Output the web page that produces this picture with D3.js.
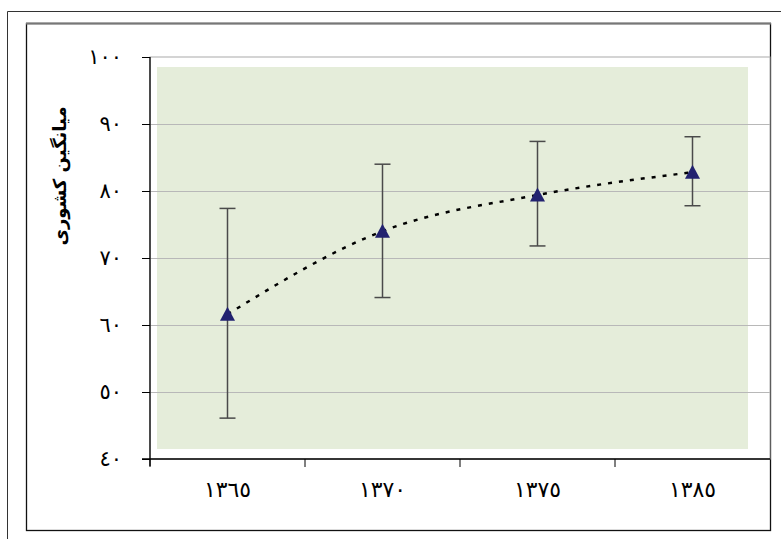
<!DOCTYPE html>
<html><head><meta charset="utf-8">
<script src="https://cdn.jsdelivr.net/npm/d3@7"></script>
<style>body{margin:0;background:#fff}svg{display:block}</style>
</head><body>
<script>
const categories = ["١٣٦٥","١٣٧٠","١٣٧٥","١٣٨٥"];
const means = [61.6, 74.0, 79.4, 82.8];
const lowers = [46.1, 64.1, 71.8, 77.8];
const uppers = [77.4, 84.0, 87.4, 88.1];
const yTicks = [40,50,60,70,80,90,100];
const yTickLabels = ["٤٠","٥٠","٦٠","٧٠","٨٠","٩٠","١٠٠"];
const yTitle = "میانگین کشوری";

const W=781,H=539;
const svg=d3.select("body").append("svg").attr("width",W).attr("height",H);
const L=150,R=770,T=57,B=459;
const x=d3.scaleBand().domain(categories).range([L,R]);
const y=d3.scaleLinear().domain([40,100]).range([B,T]);

// outer frame
svg.append("path").attr("d",`M7.5,${H} V11.5 H${W}`).attr("fill","none").attr("stroke","#333").attr("stroke-width",1);
// inner frame
svg.append("rect").attr("x",26.5).attr("y",23.5).attr("width",744).attr("height",507)
  .attr("fill","#fff").attr("stroke","#111").attr("stroke-width",1.3);
svg.append("line").attr("x1",26).attr("x2",771).attr("y1",23.5).attr("y2",23.5).attr("stroke","#777").attr("stroke-width",2);

// plot area
svg.append("rect").attr("x",L).attr("y",T).attr("width",R-L).attr("height",B-T).attr("fill","#fff").attr("stroke","#aaa").attr("stroke-width",1);
svg.append("rect").attr("x",157).attr("y",67).attr("width",591).attr("height",382).attr("fill","#E5EDDA");

// gridlines
svg.append("g").selectAll("line").data(yTicks.slice(1,-1)).join("line")
  .attr("x1",L).attr("x2",R).attr("y1",d=>Math.round(y(d))+0.5).attr("y2",d=>Math.round(y(d))+0.5)
  .attr("stroke","#b8b8b8").attr("stroke-width",1);

// y axis
const ya=svg.append("g").attr("transform",`translate(${L},0)`)
  .call(d3.axisLeft(y).tickValues(yTicks).tickSize(8).tickPadding(20).tickFormat((d,i)=>yTickLabels[i]).tickSizeOuter(0));
ya.select(".domain").attr("stroke","#000").attr("stroke-width",1.3).attr("d",`M0,${T}V${B+7}`);
ya.selectAll(".tick line").attr("stroke","#000");
ya.selectAll(".tick text").attr("font-family","DejaVu Sans").attr("font-size",21).attr("fill","#000");

// x axis
const xa=svg.append("g").attr("transform",`translate(0,${B})`)
  .call(d3.axisBottom(x).tickSize(0).tickPadding(22));
xa.select(".domain").attr("stroke","#000").attr("stroke-width",1.3).attr("d",`M${L-8},0H${R}`);
xa.selectAll(".tick text").attr("font-family","DejaVu Sans").attr("font-size",22).attr("fill","#000");
svg.append("g").selectAll("line").data(categories.slice(0)).join("line")
  .attr("x1",d=>x(d)).attr("x2",d=>x(d)).attr("y1",B).attr("y2",B+8).attr("stroke","#000");

// y title
svg.append("text").attr("transform",`translate(66,176) rotate(-90)`).attr("text-anchor","middle")
  .attr("font-family","DejaVu Sans").attr("font-weight","bold").attr("font-size",18).attr("fill","#000").text(yTitle);

const cx=d=>x(d)+x.bandwidth()/2;
// error bars
const eb=svg.append("g").attr("stroke","#4a4a4a").attr("stroke-width",1.5);
categories.forEach((c,i)=>{
  eb.append("line").attr("x1",cx(c)).attr("x2",cx(c)).attr("y1",y(lowers[i])).attr("y2",y(uppers[i]));
  eb.append("line").attr("x1",cx(c)-8).attr("x2",cx(c)+8).attr("y1",y(lowers[i])).attr("y2",y(lowers[i]));
  eb.append("line").attr("x1",cx(c)-8).attr("x2",cx(c)+8).attr("y1",y(uppers[i])).attr("y2",y(uppers[i]));
});

// dotted trend line
const line=d3.line().x((d,i)=>cx(categories[i])).y(d=>y(d)).curve(d3.curveMonotoneX);
svg.append("path").attr("d",line(means)).attr("fill","none").attr("stroke","#000").attr("stroke-width",2.5).attr("stroke-dasharray","4,7");

// markers
svg.append("g").selectAll("path").data(means).join("path")
  .attr("transform",(d,i)=>`translate(${cx(categories[i])},${y(d)})`)
  .attr("d","M0,-7.5L7.5,6.5L-7.5,6.5Z").attr("fill","#222270");
</script>
</body></html>
